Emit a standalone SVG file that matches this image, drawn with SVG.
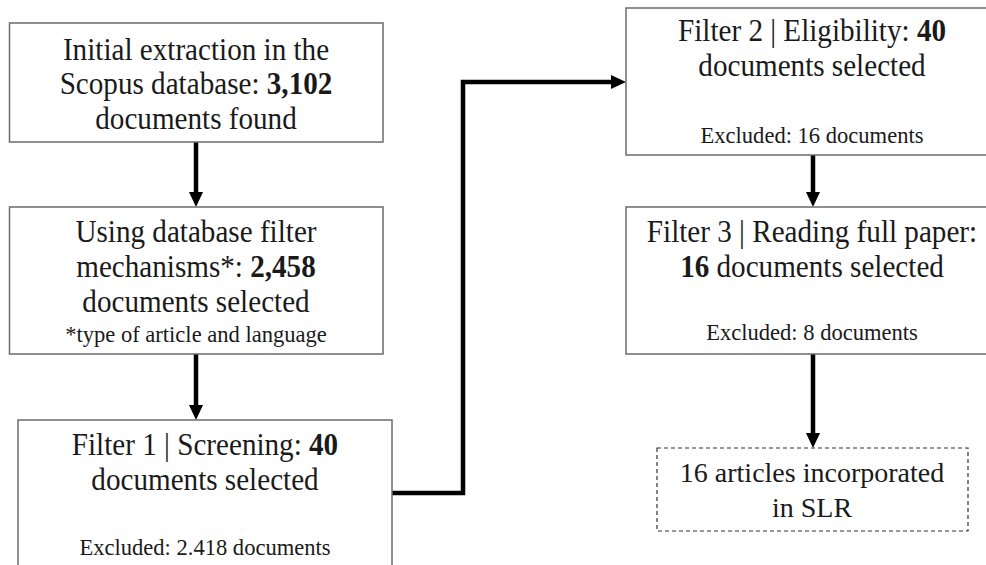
<svg xmlns="http://www.w3.org/2000/svg" width="986" height="565" viewBox="0 0 986 565">
<style>
  .box { fill: #ffffff; stroke: #6b6b6b; stroke-width: 1.5; }
  .dash { fill: #ffffff; stroke: #333333; stroke-width: 1.2; stroke-dasharray: 4 3; }
  .t { font-family: "Liberation Serif", "Times New Roman", serif; font-size: 31px; fill: #1a1a1a; text-anchor: middle; }
  .s { font-size: 24px; }
  .d { font-size: 28px; }
  .b { font-weight: bold; }
  .conn { fill: none; stroke: #000000; stroke-width: 4.5; }
</style>
<defs>
  <marker id="ah" viewBox="0 0 15 14" refX="1" refY="7" markerWidth="15" markerHeight="14" markerUnits="userSpaceOnUse" orient="auto">
    <path d="M0,0 L15,7 L0,14 z" fill="#000000"/>
  </marker>
</defs>
<rect width="986" height="565" fill="#ffffff"/>

<g id="connectors">
  <path class="conn" d="M196,142 V193" marker-end="url(#ah)"/>
  <path class="conn" d="M196,354 V406" marker-end="url(#ah)"/>
  <path class="conn" d="M392,493 H463 V82 H612" marker-end="url(#ah)"/>
  <path class="conn" d="M813,155 V193" marker-end="url(#ah)"/>
  <path class="conn" d="M813,354 V434" marker-end="url(#ah)"/>
</g>

<g id="node1">
  <rect class="box" x="9.5" y="23" width="373.5" height="119"/>
  <g transform="translate(196,0) scale(0.94,1)">
    <text class="t" x="0" y="60">Initial extraction in the</text>
    <text class="t" x="0" y="94.5">Scopus database: <tspan class="b">3,102</tspan></text>
    <text class="t" x="0" y="129">documents found</text>
  </g>
</g>

<g id="node2">
  <rect class="box" x="9.5" y="207" width="373.5" height="147"/>
  <g transform="translate(196,0) scale(0.94,1)">
    <text class="t" x="0" y="242">Using database filter</text>
    <text class="t" x="0" y="277">mechanisms*: <tspan class="b">2,458</tspan></text>
    <text class="t" x="0" y="312">documents selected</text>
    <text class="t s" x="0" y="342">*type of article and language</text>
  </g>
</g>

<g id="node3">
  <rect class="box" x="18" y="420" width="374" height="160"/>
  <g transform="translate(205,0) scale(0.94,1)">
    <text class="t" x="0" y="455">Filter 1 | Screening: <tspan class="b">40</tspan></text>
    <text class="t" x="0" y="490">documents selected</text>
    <text class="t s" x="0" y="555">Excluded: 2.418 documents</text>
  </g>
</g>

<g id="node4">
  <rect class="box" x="626" y="8" width="372" height="147"/>
  <g transform="translate(812,0) scale(0.94,1)">
    <text class="t" x="0" y="41">Filter 2 | Eligibility: <tspan class="b">40</tspan></text>
    <text class="t" x="0" y="76">documents selected</text>
    <text class="t s" x="0" y="143">Excluded: 16 documents</text>
  </g>
</g>

<g id="node5">
  <rect class="box" x="626" y="207" width="372" height="147"/>
  <g transform="translate(812,0) scale(0.94,1)">
    <text class="t" x="0" y="242">Filter 3 | Reading full paper:</text>
    <text class="t" x="0" y="277"><tspan class="b">16</tspan> documents selected</text>
    <text class="t s" x="0" y="340">Excluded: 8 documents</text>
  </g>
</g>

<g id="node6">
  <rect class="dash" x="657" y="448" width="311" height="83"/>
  <text class="t d" x="812" y="482">16 articles incorporated</text>
  <text class="t d" x="812" y="517">in SLR</text>
</g>
</svg>
